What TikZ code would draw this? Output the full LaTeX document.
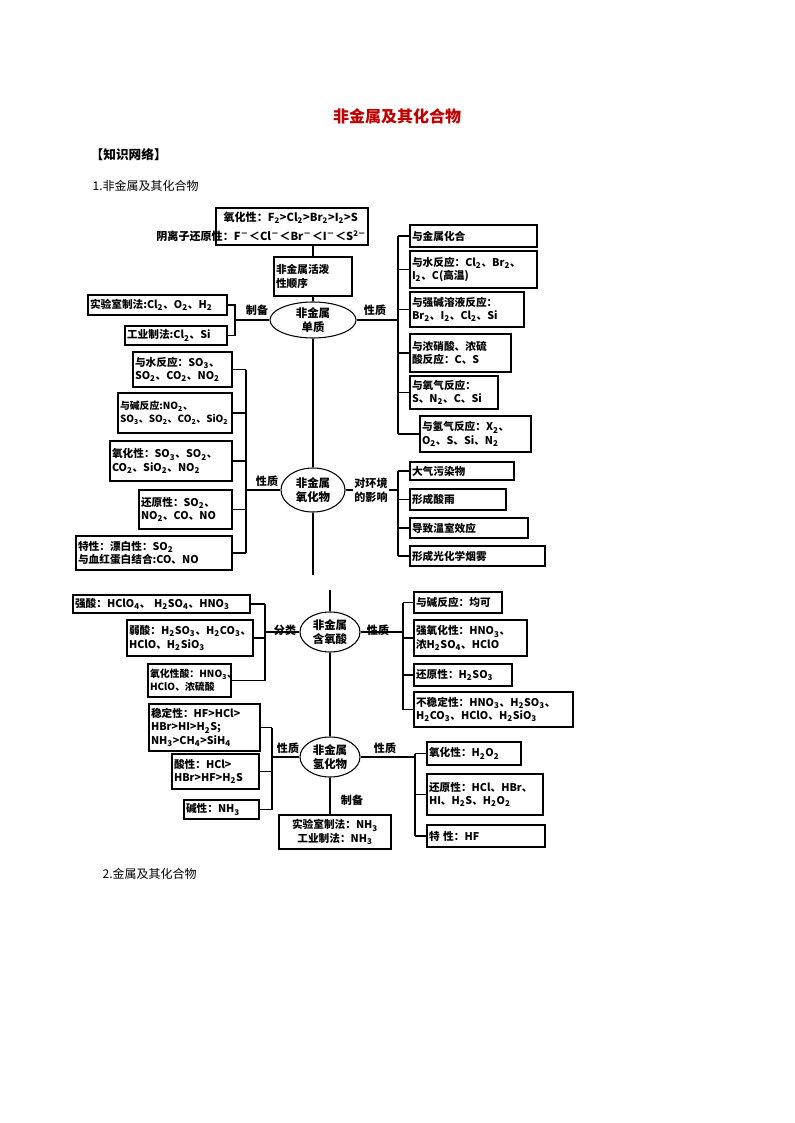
\documentclass[tikz,border=0pt]{standalone}
\usepackage{fontspec}
\setmainfont{Noto Sans CJK SC}
\usetikzlibrary{shapes.geometric}
\newcommand{\xb}[1]{\textsubscript{#1}}
\newcommand{\xp}[1]{\textsuperscript{#1}}
\newcommand{\bx}[6]{\node[bx,minimum width={(#4-#2)*0.75pt},minimum height={(#5-#3)*0.75pt},text width={(#4-#2)*0.75pt-3pt}] (#1) at ({(#2+#4)/2},{(#3+#5)/2}) {#6};}
\tikzset{bx/.style={draw,line width=0.8pt,inner sep=1pt,align=left,font=\fontsize{8}{10}\selectfont\bfseries},
 el/.style={draw,ellipse,line width=0.8pt,inner sep=0pt,align=center,font=\fontsize{8.6}{10.5}\selectfont\bfseries},
 lb/.style={font=\fontsize{8.3}{10.5}\selectfont\bfseries,align=center,inner sep=1pt},
 ln/.style={line width=0.8pt},
 sm/.style={font=\fontsize{7.4}{10}\selectfont\bfseries}}
\begin{document}
\begin{tikzpicture}[x=0.75pt,y=-0.75pt]
\useasboundingbox[fill=white] (0,0) rectangle (794,1123);
\node[font=\fontsize{12}{14}\selectfont\bfseries,text={rgb,255:red,192;green,0;blue,0}] (title) at (397,116) {非金属及其化合物};
\node[anchor=west,font=\fontsize{9.5}{11}\selectfont\bfseries] (kw) at (86,155) {【知识网络】};
\node[anchor=west,font=\fontsize{9}{11}\selectfont] (s1) at (88,186) {1.非金属及其化合物};
\node[anchor=west,font=\fontsize{9}{11}\selectfont] (s2) at (98,874) {2.金属及其化合物};
% top
\node[draw,line width=0.8pt,minimum width={152*0.75pt},minimum height={37*0.75pt}] (topbox) at (292,226.5) {};
\node[lb,anchor=west] (t1) at (222,218) {氧化性：F\xb2>Cl\xb2>Br\xb2>I\xb2>S};
\node[lb,anchor=east] (t2) at (368,236) {阴离子还原性：F\xp{－}＜Cl\xp{－}＜Br\xp{－}＜I\xp{－}＜S\xp{2－}};
\bx{act}{274}{257}{352}{296}{非金属活泼\\性顺序}
\node[el,minimum width={86*0.75pt},minimum height={36*0.75pt}] (e1) at (313,320) {非金属\\单质};
\node[el,minimum width={64*0.75pt},minimum height={44*0.75pt}] (e2) at (313,490) {非金属\\氧化物};
\node[el,minimum width={60*0.75pt},minimum height={40*0.75pt}] (e3) at (330,632) {非金属\\含氧酸};
\node[el,minimum width={60*0.75pt},minimum height={40*0.75pt}] (e4) at (330,757) {非金属\\氢化物};
\coordinate (end1) at (313,575);
\coordinate (st3) at (330,590);
\draw[ln] (act.north |- topbox.south) -- (act.north);
\draw[ln] (act.south) -- (e1.north);
\draw[ln] (e1.south) -- (e2.north);
\draw[ln] (e2.south) -- (end1);
\draw[ln] (st3) -- (e3.north);
\draw[ln] (e3.south) -- (e4.north);
% 单质 left
\bx{a1}{88}{295}{227}{315}{实验室制法:Cl\xb2、O\xb2、H\xb2}
\bx{a2}{125}{326}{227}{345}{工业制法:Cl\xb2、Si}
\coordinate (ba) at (235,0);
\draw[ln] (a1.east) -- (a1.east -| ba) -- (a2.east -| ba) -- (a2.east);
\draw[ln] (e1.west) -- (e1.west -| ba);
\node[lb] (la) at (257,310) {制备};
% 单质 right
\bx{b1}{410}{225}{537}{247}{与金属化合}
\bx{b2}{410}{251}{537}{288}{与水反应：Cl\xb2、Br\xb2、\\I\xb2、C(高温)}
\bx{b3}{410}{292}{524}{327}{与强碱溶液反应：\\Br\xb2、I\xb2、Cl\xb2、Si}
\bx{b4}{410}{334}{511}{372}{与浓硝酸、浓硫\\酸反应：C、S}
\bx{b5}{410}{376}{498}{409}{与氧气反应：\\S、N\xb2、C、Si}
\bx{b6}{420}{416}{531}{452}{与氢气反应：X\xb2、\\O\xb2、S、Si、N\xb2}
\coordinate (bb) at (398,0);
\draw[ln] (b1.west -| bb) -- (b6.west -| bb);
\foreach \n in {b1,b2,b3,b4,b5,b6} \draw[ln] (\n.west) -- (\n.west -| bb);
\draw[ln] (e1.east) -- (e1.east -| bb);
\node[lb] (lb1) at (375,310) {性质};
% 氧化物 left
\bx{c1}{133}{352}{232}{387}{与水反应：SO\xb3、\\SO\xb2、CO\xb2、NO\xb2}
\bx{c2}{118}{393}{232}{433}{\fontsize{7.4}{10}\selectfont 与碱反应:NO\xb2、\\SO\xb3、SO\xb2、CO\xb2、SiO\xb2}
\bx{c3}{110}{441}{232}{481}{氧化性：SO\xb3、SO\xb2、\\CO\xb2、SiO\xb2、NO\xb2}
\bx{c4}{139}{490}{232}{529}{还原性：SO\xb2、\\NO\xb2、CO、NO}
\bx{c5}{76}{536}{232}{570}{特性：漂白性：SO\xb2\\与血红蛋白结合:CO、NO}
\coordinate (bc) at (246,0);
\draw[ln] (c1.east -| bc) -- (c5.east -| bc);
\foreach \n in {c1,c2,c3,c4,c5} \draw[ln] (\n.east) -- (\n.east -| bc);
\draw[ln] (e2.west) -- (e2.west -| bc);
\node[lb] (lc) at (267,481) {性质};
% 氧化物 right
\bx{d1}{410}{462}{514}{480}{大气污染物}
\bx{d2}{410}{489}{506}{510}{形成酸雨}
\bx{d3}{410}{518}{528}{538}{导致温室效应}
\bx{d4}{410}{546}{545}{566}{形成光化学烟雾}
\coordinate (bd) at (398,0);
\draw[ln] (d1.west -| bd) -- (d4.west -| bd);
\foreach \n in {d1,d2,d3,d4} \draw[ln] (\n.west) -- (\n.west -| bd);
\node[lb] (ld) at (371,490) {对环境\\的影响};
\draw[ln] (e2.east) -- (ld.west);
\draw[ln] (ld.east) -- (ld.east -| bd);
% 含氧酸 left
\bx{f1}{73}{595}{250}{613}{强酸：HClO\xb4、 H\xb2SO\xb4、HNO\xb3}
\bx{f2}{127}{620}{253}{656}{弱酸：H\xb2SO\xb3、H\xb2CO\xb3、\\HClO、H\xb2SiO\xb3}
\bx{f3}{148}{664}{231}{697}{\fontsize{7.4}{10}\selectfont 氧化性酸：HNO\xb3、\\HClO、浓硫酸}
\coordinate (bf) at (265,0);
\draw[ln] (f1.east -| bf) -- (f3.east -| bf);
\foreach \n in {f1,f2,f3} \draw[ln] (\n.east) -- (\n.east -| bf);
\draw[ln] (e3.west) -- (e3.west -| bf);
\node[lb] (lf) at (285,630) {分类};
% 含氧酸 right
\bx{g1}{414}{592}{502}{613}{与碱反应：均可}
\bx{g2}{414}{620}{527}{656}{强氧化性：HNO\xb3、\\浓H\xb2SO\xb4、HClO}
\bx{g3}{414}{664}{512}{686}{还原性：H\xb2SO\xb3}
\bx{g4}{414}{692}{573}{727}{不稳定性：HNO\xb3、H\xb2SO\xb3、\\H\xb2CO\xb3、HClO、H\xb2SiO\xb3}
\coordinate (bg) at (403,0);
\draw[ln] (g1.west -| bg) -- (g4.west -| bg);
\foreach \n in {g1,g2,g3,g4} \draw[ln] (\n.west) -- (\n.west -| bg);
\draw[ln] (e3.east) -- (e3.east -| bg);
\node[lb] (lg) at (378,630) {性质};
% 氢化物 left
\bx{h1}{149}{704}{260}{751}{稳定性：HF>HCl>\\HBr>HI>H\xb2S;\\NH\xb3>CH\xb4>SiH\xb4}
\bx{h2}{172}{754}{259}{789}{酸性：HCl>\\HBr>HF>H\xb2S}
\bx{h3}{184}{800}{259}{819}{碱性：NH\xb3}
\coordinate (bh) at (272,0);
\draw[ln] (h1.east -| bh) -- (h3.east -| bh);
\foreach \n in {h1,h2,h3} \draw[ln] (\n.east) -- (\n.east -| bh);
\draw[ln] (e4.west) -- (e4.west -| bh);
\node[lb] (lh) at (288,748) {性质};
% 氢化物 right
\bx{i1}{427}{742}{521}{765}{氧化性：H\xb2O\xb2}
\bx{i2}{427}{774}{543}{815}{还原性：HCl、HBr、\\HI、H\xb2S、H\xb2O\xb2}
\bx{i3}{427}{825}{545}{847}{特 性：HF}
\coordinate (bi) at (415,0);
\draw[ln] (i1.west -| bi) -- (i3.west -| bi);
\foreach \n in {i1,i2,i3} \draw[ln] (\n.west) -- (\n.west -| bi);
\draw[ln] (e4.east) -- (e4.east -| bi);
\node[lb] (li) at (385,748) {性质};
% 制备
\node[draw,line width=0.8pt,minimum width={112*0.75pt},minimum height={34*0.75pt},align=center,font=\fontsize{8}{10}\selectfont\bfseries,inner sep=1pt] (j1) at (335,832) {实验室制法：NH\xb3\\工业制法：NH\xb3};
\draw[ln] (e4.south) -- (e4.south |- j1.north);
\node[lb] (lj) at (352,800) {制备};
\end{tikzpicture}
\end{document}
